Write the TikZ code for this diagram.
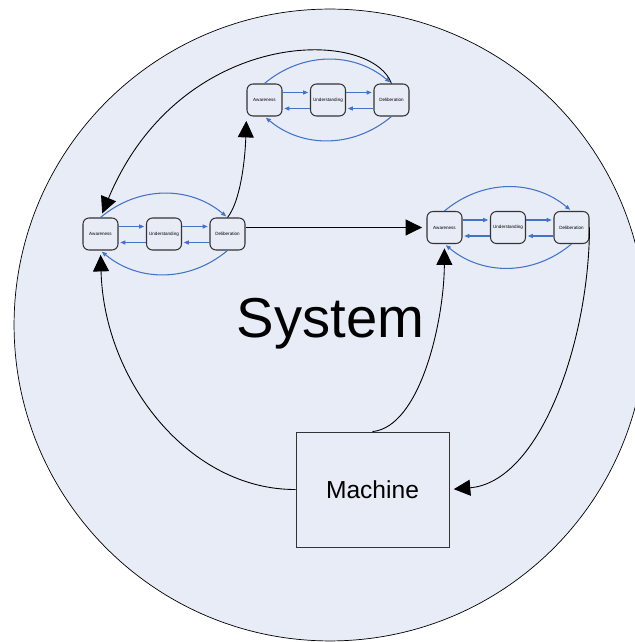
\documentclass[tikz,border=0pt]{standalone}
\usepackage{fontspec}
\setmainfont{Liberation Sans}
\usepackage{tikz}
\usetikzlibrary{positioning, arrows.meta}

\definecolor{sysbg}{RGB}{232,236,247}
\definecolor{cycblue}{RGB}{68,114,196}

\begin{document}
\begin{tikzpicture}[shorten >=1pt, x=0.02cm, y=0.02cm, node distance=1.27cm, on grid,
        stage/.style={draw=black!80, fill=sysbg, rounded corners=0.12cm, minimum width=0.7cm,
            minimum height=0.64cm, inner sep=0pt, line width=0.6pt, font=\fontsize{2.6}{3}\selectfont},
        cyc/.style={color=cycblue, line width=0.6pt, -{Triangle[length=0.1cm,width=0.08cm]}},
        big/.style={draw=black, line width=0.5pt, shorten >=2.5pt, -{Triangle[length=0.33cm,width=0.32cm]}}]
        \useasboundingbox (0,0) rectangle (635,642);
        \draw[fill=sysbg, line width=0.4pt] (330,317) circle[radius=6.32cm];

        % three loops of stages
        \node[stage] (a1) at (264.5,542) {Awareness};
        \node[stage] (u1) [right=of a1] {Understanding};
        \node[stage] (d1) [right=of u1] {Deliberation};
        \node[stage] (a2) at (100.5,408) {Awareness};
        \node[stage] (u2) [right=of a2] {Understanding};
        \node[stage] (d2) [right=of u2] {Deliberation};
        \node[stage] (a3) at (444.5,414.5) {Awareness};
        \node[stage] (u3) [right=of a3] {Understanding};
        \node[stage] (d3) [right=of u3] {Deliberation};

        \node[anchor=base, font=\fontsize{32}{36}\selectfont] (sys) at (330.5,304) {System};
        \node[draw=black!80, fill=sysbg, minimum width=3.06cm, minimum height=2.3cm, line width=0.5pt,
            font=\fontsize{14}{16}\selectfont] (m) at (372.5,152.5) {Machine};

        \path[cyc]
        ([yshift=0.15cm]a1.east) edge ([yshift=0.15cm]u1.west)
            ([yshift=0.15cm]u1.east) edge ([yshift=0.15cm]d1.west)
        ([yshift=-0.17cm]u1.west) edge ([yshift=-0.17cm]a1.east)
            ([yshift=-0.17cm]d1.west) edge ([yshift=-0.17cm]u1.east)
        (a1.north) edge[bend left=40] (d1.north)
            (d1.south) edge[bend left=40] (a1.south)
        ([yshift=0.15cm]a2.east) edge ([yshift=0.15cm]u2.west)
            ([yshift=0.15cm]u2.east) edge ([yshift=0.15cm]d2.west)
        ([yshift=-0.17cm]u2.west) edge ([yshift=-0.17cm]a2.east)
            ([yshift=-0.17cm]d2.west) edge ([yshift=-0.17cm]u2.east)
        (a2.north) edge[bend left=40] (d2.north)
            (d2.south) edge[bend left=40] (a2.south)
        ([yshift=0.15cm]a3.east) edge ([yshift=0.15cm]u3.west)
            ([yshift=0.15cm]u3.east) edge ([yshift=0.15cm]d3.west)
        ([yshift=-0.17cm]u3.west) edge ([yshift=-0.17cm]a3.east)
            ([yshift=-0.17cm]d3.west) edge ([yshift=-0.17cm]u3.east)
        (a3.north) edge[bend left=40] (d3.north)
            (d3.south) edge[bend left=40] (a3.south);

        % links between the loops and the machine
        \draw[big] (d1.north) .. controls (370,615) and (180,615) .. (a2.north);
        \draw[big] (d2.north) .. controls (240,440) and (245,480) .. (a1.south west);
        \draw[big] (d2.east |- a3.west) -- (a3.west);
        \draw[big] (m.west) .. controls (190,152) and (104,260) .. (a2.south);
        \draw[big] (m.north) .. controls (420,215) and (444,320) .. (a3.south);
        \draw[big] (d3.east) .. controls (589,300) and (540,160) .. (m.east);
    \end{tikzpicture}
\end{document}
